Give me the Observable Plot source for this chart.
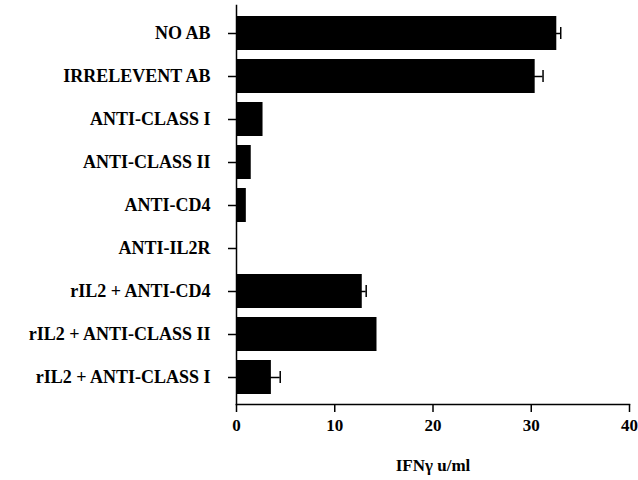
<!DOCTYPE html>
<html><head><meta charset="utf-8">
<script src="https://cdn.jsdelivr.net/npm/d3@7"></script>
<script src="https://cdn.jsdelivr.net/npm/@observablehq/plot@0.6"></script>
<style>
body{margin:0;background:#fff;}
svg{font-family:"Liberation Serif","Times New Roman",serif;font-weight:bold;}
</style></head>
<body><div id="chart"></div>
<script>
const categories = ["NO AB","IRRELEVENT AB","ANTI-CLASS I","ANTI-CLASS II","ANTI-CD4","ANTI-IL2R","rIL2 + ANTI-CD4","rIL2 + ANTI-CLASS II","rIL2 + ANTI-CLASS I"];
const values = [32.6, 30.4, 2.7, 1.5, 1.0, 0, 12.8, 14.3, 3.55];
const errors = [0.4, 0.8, 0, 0, 0, 0, 0.4, 0, 0.9];
const xTicks = [0, 10, 20, 30, 40];

const data = categories.map((c, i) => ({cat: c, v: values[i], e: errors[i]}));
const errData = data.filter(d => d.e > 0);

const plot = Plot.plot({
  width: 638, height: 480,
  marginLeft: 236, marginRight: 9, marginTop: 5, marginBottom: 76,
  style: {fontFamily: "Liberation Serif, Times New Roman, serif", fontWeight: "bold", background: "#fff", color: "#000"},
  x: {domain: [0, 40], ticks: xTicks},
  y: {domain: categories, padding: 0.22},
  marks: [
    Plot.barX(data, {x: "v", y: "cat", fill: "#000"}),
    Plot.ruleY(errData, {x1: d => d.v - d.e, x2: d => d.v + d.e, y: "cat", stroke: "#000", strokeWidth: 1.5}),
    Plot.tickX(errData, {x: d => d.v + d.e, y: "cat", stroke: "#000", strokeWidth: 1.5, inset: 11}),
    Plot.frame({anchor: "left", stroke: "#000", strokeWidth: 1.5}),
    Plot.frame({anchor: "bottom", stroke: "#000", strokeWidth: 1.5}),
    Plot.axisX({ticks: xTicks, tickSize: 8, tickPadding: 6, fontSize: 17, tickFormat: d => String(d), label: null, strokeWidth: 1.5}),
    Plot.axisY({tickSize: 8, tickPadding: 18, fontSize: 18, label: null, strokeWidth: 1.5}),
    Plot.text(["IFNγ u/ml"], {frameAnchor: "bottom", x: 20, dy: 66, fontSize: 17, fill: "#000"})
  ]
});
document.getElementById("chart").appendChild(plot);
</script></body></html>
